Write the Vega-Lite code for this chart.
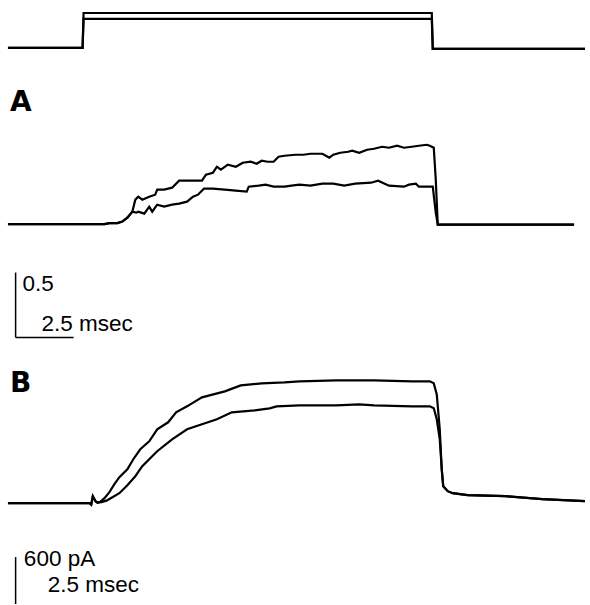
{
  "$schema": "https://vega.github.io/schema/vega-lite/v6.json",
  "width": 590,
  "height": 605,
  "autosize": {"type": "fit", "contains": "padding"},
  "padding": 0,
  "background": "white",
  "config": {"view": {"stroke": null}},
  "datasets": {
    "traces": [
      {"s": "V1", "t": -3.216, "y": 557}, {"s": "V1", "t": 0, "y": 557}, {"s": "V1", "t": 0.043, "y": 592}, {"s": "V1", "t": 15.051, "y": 592}, {"s": "V1", "t": 15.094, "y": 556}, {"s": "V1", "t": 21.655, "y": 556},
      {"s": "V2", "t": -3.216, "y": 557}, {"s": "V2", "t": 0, "y": 557}, {"s": "V2", "t": 0.043, "y": 586}, {"s": "V2", "t": 15.051, "y": 586}, {"s": "V2", "t": 15.094, "y": 556}, {"s": "V2", "t": 21.655, "y": 556},

      {"s": "A1", "t": -3.216, "y": 380.5}, {"s": "A1", "t": 0.943, "y": 380.5}, {"s": "A1", "t": 1.158, "y": 381.5}, {"s": "A1", "t": 1.501, "y": 381.5}, {"s": "A1", "t": 1.715, "y": 383}, {"s": "A1", "t": 1.930, "y": 387}, {"s": "A1", "t": 2.144, "y": 393}, {"s": "A1", "t": 2.273, "y": 405}, {"s": "A1", "t": 2.401, "y": 408}, {"s": "A1", "t": 2.573, "y": 405}, {"s": "A1", "t": 2.873, "y": 408}, {"s": "A1", "t": 3.130, "y": 410}, {"s": "A1", "t": 3.216, "y": 415}, {"s": "A1", "t": 3.516, "y": 415}, {"s": "A1", "t": 3.859, "y": 417}, {"s": "A1", "t": 4.160, "y": 424}, {"s": "A1", "t": 5.146, "y": 424}, {"s": "A1", "t": 5.317, "y": 430}, {"s": "A1", "t": 5.618, "y": 432}, {"s": "A1", "t": 5.789, "y": 438}, {"s": "A1", "t": 5.961, "y": 435}, {"s": "A1", "t": 6.261, "y": 440}, {"s": "A1", "t": 6.604, "y": 438}, {"s": "A1", "t": 6.904, "y": 442}, {"s": "A1", "t": 7.247, "y": 443}, {"s": "A1", "t": 7.504, "y": 441}, {"s": "A1", "t": 7.719, "y": 444}, {"s": "A1", "t": 7.976, "y": 443}, {"s": "A1", "t": 8.233, "y": 443}, {"s": "A1", "t": 8.448, "y": 448}, {"s": "A1", "t": 8.705, "y": 449}, {"s": "A1", "t": 9.177, "y": 450}, {"s": "A1", "t": 9.520, "y": 450}, {"s": "A1", "t": 9.820, "y": 451}, {"s": "A1", "t": 10.335, "y": 451}, {"s": "A1", "t": 10.635, "y": 447}, {"s": "A1", "t": 10.806, "y": 450}, {"s": "A1", "t": 11.106, "y": 452}, {"s": "A1", "t": 11.449, "y": 453}, {"s": "A1", "t": 11.621, "y": 454}, {"s": "A1", "t": 11.921, "y": 452}, {"s": "A1", "t": 12.264, "y": 455}, {"s": "A1", "t": 12.564, "y": 456}, {"s": "A1", "t": 12.907, "y": 458}, {"s": "A1", "t": 13.208, "y": 457}, {"s": "A1", "t": 13.551, "y": 459}, {"s": "A1", "t": 13.851, "y": 457}, {"s": "A1", "t": 14.194, "y": 458}, {"s": "A1", "t": 14.494, "y": 459}, {"s": "A1", "t": 14.837, "y": 460}, {"s": "A1", "t": 14.966, "y": 459}, {"s": "A1", "t": 15.137, "y": 457}, {"s": "A1", "t": 15.223, "y": 425}, {"s": "A1", "t": 15.309, "y": 380}, {"s": "A1", "t": 21.184, "y": 380},

      {"s": "A2", "t": -3.216, "y": 380.5}, {"s": "A2", "t": 0.943, "y": 380.5}, {"s": "A2", "t": 1.158, "y": 381.5}, {"s": "A2", "t": 1.501, "y": 381.5}, {"s": "A2", "t": 1.715, "y": 383}, {"s": "A2", "t": 1.930, "y": 387}, {"s": "A2", "t": 2.144, "y": 393}, {"s": "A2", "t": 2.316, "y": 392}, {"s": "A2", "t": 2.401, "y": 393}, {"s": "A2", "t": 2.659, "y": 391}, {"s": "A2", "t": 2.873, "y": 398}, {"s": "A2", "t": 3.002, "y": 393}, {"s": "A2", "t": 3.216, "y": 400}, {"s": "A2", "t": 3.516, "y": 398}, {"s": "A2", "t": 3.859, "y": 400}, {"s": "A2", "t": 4.160, "y": 401}, {"s": "A2", "t": 4.503, "y": 403}, {"s": "A2", "t": 4.760, "y": 408}, {"s": "A2", "t": 4.974, "y": 410}, {"s": "A2", "t": 5.232, "y": 416}, {"s": "A2", "t": 5.618, "y": 416}, {"s": "A2", "t": 6.132, "y": 415}, {"s": "A2", "t": 6.604, "y": 414}, {"s": "A2", "t": 7.076, "y": 413}, {"s": "A2", "t": 7.161, "y": 418}, {"s": "A2", "t": 7.590, "y": 419}, {"s": "A2", "t": 7.890, "y": 420}, {"s": "A2", "t": 8.233, "y": 418}, {"s": "A2", "t": 8.705, "y": 418}, {"s": "A2", "t": 9.005, "y": 419}, {"s": "A2", "t": 9.348, "y": 420}, {"s": "A2", "t": 9.820, "y": 419}, {"s": "A2", "t": 10.335, "y": 421}, {"s": "A2", "t": 10.806, "y": 421}, {"s": "A2", "t": 11.278, "y": 419}, {"s": "A2", "t": 11.750, "y": 421}, {"s": "A2", "t": 12.436, "y": 422}, {"s": "A2", "t": 12.736, "y": 424}, {"s": "A2", "t": 13.208, "y": 419}, {"s": "A2", "t": 13.851, "y": 418}, {"s": "A2", "t": 14.065, "y": 420}, {"s": "A2", "t": 14.365, "y": 421}, {"s": "A2", "t": 14.494, "y": 418}, {"s": "A2", "t": 15.094, "y": 418}, {"s": "A2", "t": 15.223, "y": 392}, {"s": "A2", "t": 15.309, "y": 380}, {"s": "A2", "t": 21.184, "y": 380},

      {"s": "B1", "t": -3.216, "y": 101}, {"s": "B1", "t": 0.300, "y": 101}, {"s": "B1", "t": 0.373, "y": 99.5}, {"s": "B1", "t": 0.442, "y": 108}, {"s": "B1", "t": 0.557, "y": 103}, {"s": "B1", "t": 0.643, "y": 101.5}, {"s": "B1", "t": 0.772, "y": 102.5}, {"s": "B1", "t": 0.943, "y": 106}, {"s": "B1", "t": 1.158, "y": 112}, {"s": "B1", "t": 1.372, "y": 120}, {"s": "B1", "t": 1.587, "y": 127}, {"s": "B1", "t": 1.930, "y": 135}, {"s": "B1", "t": 2.187, "y": 145}, {"s": "B1", "t": 2.487, "y": 155}, {"s": "B1", "t": 2.873, "y": 163}, {"s": "B1", "t": 3.216, "y": 175}, {"s": "B1", "t": 3.688, "y": 182}, {"s": "B1", "t": 4.031, "y": 192}, {"s": "B1", "t": 4.503, "y": 198}, {"s": "B1", "t": 5.146, "y": 207}, {"s": "B1", "t": 6.132, "y": 213}, {"s": "B1", "t": 6.818, "y": 219}, {"s": "B1", "t": 7.719, "y": 221}, {"s": "B1", "t": 8.705, "y": 222}, {"s": "B1", "t": 9.348, "y": 223}, {"s": "B1", "t": 10.935, "y": 224}, {"s": "B1", "t": 12.564, "y": 224}, {"s": "B1", "t": 14.194, "y": 223}, {"s": "B1", "t": 14.966, "y": 223}, {"s": "B1", "t": 15.137, "y": 221}, {"s": "B1", "t": 15.266, "y": 210}, {"s": "B1", "t": 15.395, "y": 175}, {"s": "B1", "t": 15.480, "y": 135}, {"s": "B1", "t": 15.545, "y": 118}, {"s": "B1", "t": 15.738, "y": 113}, {"s": "B1", "t": 15.952, "y": 111}, {"s": "B1", "t": 16.595, "y": 109}, {"s": "B1", "t": 18.225, "y": 108}, {"s": "B1", "t": 19.811, "y": 105}, {"s": "B1", "t": 21.655, "y": 103},

      {"s": "B2", "t": -3.216, "y": 101}, {"s": "B2", "t": 0.300, "y": 101}, {"s": "B2", "t": 0.373, "y": 99.5}, {"s": "B2", "t": 0.442, "y": 108}, {"s": "B2", "t": 0.557, "y": 103}, {"s": "B2", "t": 0.643, "y": 101.5}, {"s": "B2", "t": 0.815, "y": 102}, {"s": "B2", "t": 1.029, "y": 103.5}, {"s": "B2", "t": 1.286, "y": 107}, {"s": "B2", "t": 1.587, "y": 111}, {"s": "B2", "t": 1.930, "y": 119}, {"s": "B2", "t": 2.273, "y": 128}, {"s": "B2", "t": 2.573, "y": 138}, {"s": "B2", "t": 3.216, "y": 153}, {"s": "B2", "t": 3.859, "y": 165}, {"s": "B2", "t": 4.503, "y": 175}, {"s": "B2", "t": 5.146, "y": 180}, {"s": "B2", "t": 5.789, "y": 185}, {"s": "B2", "t": 6.432, "y": 192}, {"s": "B2", "t": 7.419, "y": 194}, {"s": "B2", "t": 8.062, "y": 196}, {"s": "B2", "t": 8.362, "y": 198}, {"s": "B2", "t": 9.348, "y": 199}, {"s": "B2", "t": 10.935, "y": 199}, {"s": "B2", "t": 11.921, "y": 200}, {"s": "B2", "t": 12.564, "y": 199}, {"s": "B2", "t": 14.194, "y": 198}, {"s": "B2", "t": 14.966, "y": 198}, {"s": "B2", "t": 15.137, "y": 196}, {"s": "B2", "t": 15.266, "y": 185}, {"s": "B2", "t": 15.395, "y": 165}, {"s": "B2", "t": 15.480, "y": 135}, {"s": "B2", "t": 15.545, "y": 118}, {"s": "B2", "t": 15.738, "y": 113}, {"s": "B2", "t": 15.952, "y": 111}, {"s": "B2", "t": 16.595, "y": 109}, {"s": "B2", "t": 18.225, "y": 108}, {"s": "B2", "t": 19.811, "y": 105}, {"s": "B2", "t": 21.655, "y": 103}
    ],
    "bars": [
      {"x": -2.886, "x2": -2.886, "y": 332, "y2": 267},
      {"x": -2.886, "x2": -0.386, "y": 267, "y2": 267},
      {"x": -2.886, "x2": -2.886, "y": 47, "y2": 0}
    ],
    "labels": [
      {"x": -2.586, "y": 313.3, "txt": "0.5"},
      {"x": -1.771, "y": 273.3, "txt": "2.5 msec"},
      {"x": -2.530, "y": 38, "txt": "600 pA"},
      {"x": -1.501, "y": 12, "txt": "2.5 msec"}
    ],
    "panels": [
      {"x": -3.130, "y": 494, "txt": "A"},
      {"x": -3.130, "y": 212, "txt": "B"}
    ]
  },
  "encoding": {},
  "layer": [
    {
      "data": {"name": "traces"},
      "mark": {"type": "line", "color": "black", "strokeWidth": 2.2, "interpolate": "linear"},
      "encoding": {
        "x": {"field": "t", "type": "quantitative", "scale": {"domain": [-3.559, 21.741], "nice": false, "zero": false}, "axis": null},
        "y": {"field": "y", "type": "quantitative", "scale": {"domain": [0, 605], "nice": false, "zero": false}, "axis": null},
        "detail": {"field": "s"}
      }
    },
    {
      "data": {"name": "bars"},
      "mark": {"type": "rule", "color": "black", "strokeWidth": 1.5},
      "encoding": {
        "x": {"field": "x", "type": "quantitative"},
        "x2": {"field": "x2"},
        "y": {"field": "y", "type": "quantitative"},
        "y2": {"field": "y2"}
      }
    },
    {
      "data": {"name": "labels"},
      "mark": {"type": "text", "align": "left", "baseline": "alphabetic", "font": "Liberation Sans", "fontSize": 22.5, "color": "black"},
      "encoding": {
        "x": {"field": "x", "type": "quantitative"},
        "y": {"field": "y", "type": "quantitative"},
        "text": {"field": "txt"}
      }
    },
    {
      "data": {"name": "panels"},
      "mark": {"type": "text", "align": "left", "baseline": "alphabetic", "font": "DejaVu Sans", "fontWeight": "bold", "fontSize": 28, "color": "black"},
      "encoding": {
        "x": {"field": "x", "type": "quantitative"},
        "y": {"field": "y", "type": "quantitative"},
        "text": {"field": "txt"}
      }
    }
  ]
}
